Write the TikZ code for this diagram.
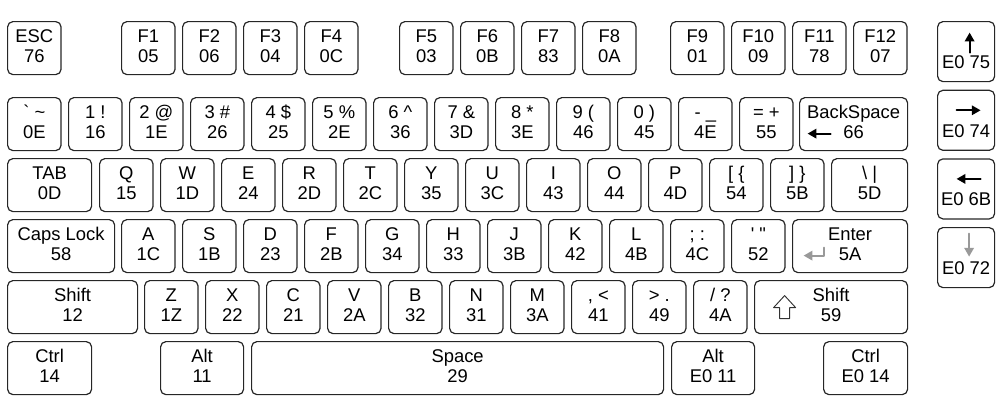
\documentclass[tikz,border=0pt]{standalone}
\usepackage{fontspec}
\newfontfamily\keyfont{Liberation Sans}[Ligatures=TeXOff]
\usetikzlibrary{arrows.meta,calc}

\tikzset{
  keycap/.style={draw=black!85,line width=0.9pt,rounded corners=4pt,anchor=north west,
    inner sep=0pt,align=center,minimum width=40.1pt,minimum height=39.75pt,
    font=\keyfont\fontsize{13.8}{15}\selectfont},
  keyw/.style={minimum width=#1*0.75pt},
  arrowkey/.style={keycap,minimum height=45pt},
  glyph/.style={line width=1.4pt,-{Triangle[length=6.5pt,width=7pt]}},
}

\begin{document}
\begin{tikzpicture}[x=0.75pt,y=-0.75pt,line cap=round,line join=round]
  \useasboundingbox (0,0) rectangle (1005,408);

  % function row
  \node[keycap] (esc) at (7,21) {\strut ESC\\\strut 76};
  \foreach \x/\ka/\kb in {121/F1/05,182/F2/06,243/F3/04,304/F4/0C,
                          399/F5/03,460/F6/0B,521/F7/83,582/F8/0A,
                          670/F9/01,731/F10/09,792/F11/78,853/F12/07}
    \node[keycap] (\ka) at (\x,21) {\strut\ka\\\strut\kb};

  % number row
  \foreach \ka/\kb [count=\n from 0] in {{` \textasciitilde}/0E,1 !/16,2 @/1E,3 \#/26,
      4 \$/25,5 \%/2E,6 \textasciicircum/36,7 \&/3D,8 */3E,9 (/46,0 )/45,- \_/4E,= +/55}
    \node[keycap] (num-\n) at ({7+61*\n},97) {\strut\ka\\\strut\kb};
  \node[keycap,keyw=108] (bksp) at (799,97) {\strut BackSpace\\\strut 66};

  % top letter row
  \node[keycap,keyw=84] (tab) at (7,158) {\strut TAB\\\strut 0D};
  \foreach \ka/\kb [count=\n from 0] in {Q/15,W/1D,E/24,R/2D,T/2C,Y/35,U/3C,I/43,
      O/44,P/4D,[ \{/54,] \}/5B}
    \node[keycap] (top-\n) at ({99+61*\n},158) {\strut\ka\\\strut\kb};
  \node[keycap,keyw=76] (bslash) at (831,158) {\strut\textbackslash\ |\\\strut 5D};

  % home row
  \node[keycap,keyw=107] (caps) at (7,219) {\strut Caps Lock\\\strut 58};
  \foreach \ka/\kb [count=\n from 0] in {A/1C,S/1B,D/23,F/2B,G/34,H/33,J/3B,K/42,
      L/4B,; :/4C,' "/52}
    \node[keycap] (home-\n) at ({121+61*\n},219) {\strut\ka\\\strut\kb};
  \node[keycap,keyw=115] (enter) at (792,219) {\strut Enter\\\strut 5A};

  % bottom letter row
  \node[keycap,keyw=130] (lshift) at (7,280) {\strut Shift\\\strut 12};
  \foreach \ka/\kb [count=\n from 0] in {Z/1Z,X/22,C/21,V/2A,B/32,N/31,M/3A,
      {, <}/41,{> .}/49,{/ ?}/4A}
    \node[keycap] (low-\n) at ({144+61*\n},280) {\strut\ka\\\strut\kb};
  \node[keycap,keyw=153] (rshift) at (754,280) {\strut Shift\\\strut 59};

  % space row
  \node[keycap,keyw=84] (lctrl) at (7,341) {\strut Ctrl\\\strut 14};
  \node[keycap,keyw=83] (lalt) at (160,341) {\strut Alt\\\strut 11};
  \node[keycap,keyw=412] (space) at (251,341) {\strut Space\\\strut 29};
  \node[keycap,keyw=83] (ralt) at (671,341) {\strut Alt\\\strut E0 11};
  \node[keycap,keyw=84] (rctrl) at (823,341) {\strut Ctrl\\\strut E0 14};

  % cursor keys
  \node[arrowkey,keyw=57] (up) at (937,21) {\strut\\[4.5pt]\strut E0 75};
  \node[arrowkey,keyw=57] (right) at (937,89.7) {\strut\\[4.5pt]\strut E0 74};
  \node[arrowkey,keyw=57] (left) at (937,158.3) {\strut\\[4.5pt]\strut E0 6B};
  \node[arrowkey,keyw=57] (down) at (937,227) {\strut\\[4.5pt]\strut E0 72};

  % key glyphs
  \draw[glyph] ($(up.center)+(3.5,1)$) -- ($(up.center)+(3.5,-19)$);
  \draw[glyph] ($(right.center)+(-9.5,-10)$) -- ($(right.center)+(14.5,-10)$);
  \draw[glyph] ($(left.center)+(14.5,-10)$) -- ($(left.center)+(-9.5,-10)$);
  \draw[glyph,black!40] ($(down.center)+(3,-24)$) -- ($(down.center)+(3,-1)$);
  \draw[glyph] ($(bksp.center)+(-23,9.5)$) -- ($(bksp.center)+(-46,9.5)$);
  \draw[glyph,black!40] ($(enter.center)+(-26.5,1.5)$) -- ($(enter.center)+(-26.5,9.5)$)
    -- ($(enter.center)+(-46.5,9.5)$);
  \draw[line width=0.7pt,black!80] ($(rshift.center)+(-46.5,-11.5)$) -- ++(11,12) -- ++(-6,0)
    -- ++(0,11) -- ++(-10,0) -- ++(0,-11) -- ++(-6,0) -- cycle;
\end{tikzpicture}
\end{document}
